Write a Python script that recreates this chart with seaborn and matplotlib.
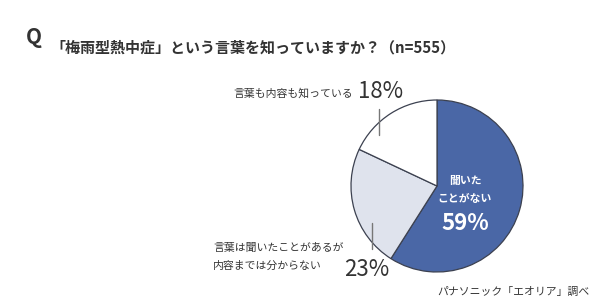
import matplotlib
matplotlib.use('Agg')
import matplotlib.pyplot as plt
import seaborn as sns

# データ
labels = ['聞いた\nことがない', '言葉は聞いたことがあるが\n内容までは分からない', '言葉も内容も知っている']
shares = [59, 23, 18]
colors = ['#4a67a6', '#dfe3ed', '#ffffff']
title = '「梅雨型熱中症」という言葉を知っていますか？（n=555）'
source = 'パナソニック「エオリア」調べ'

sns.set_theme(style='white')
plt.rcParams['font.family'] = ['Noto Sans CJK JP', 'DejaVu Sans']

H = 305
fig = plt.figure(figsize=(6, 3.05), dpi=100)
ax = fig.add_axes([0, 0, 1, 1])

ax.pie(shares, colors=colors, startangle=90, counterclock=False,
       center=(437, H - 186), radius=86,
       wedgeprops=dict(edgecolor='#3c4150', linewidth=0.9))
ax.set_xlim(0, 600)
ax.set_ylim(0, H)
ax.set_aspect('equal')
ax.axis('off')

txt = '#333333'
# タイトル
ax.text(26, H - 37, 'Q', fontsize=15, fontweight='bold', color=txt, va='center', ha='left')
ax.text(50, H - 47, title, fontsize=10.8, fontweight='bold', color=txt, va='center', ha='left')

# 18%
ax.text(353, H - 93, labels[2], fontsize=7.8, color=txt, va='center', ha='right')
ax.text(358, H - 92, f'{shares[2]}%', fontsize=16, color=txt, va='center', ha='left')
ax.plot([379, 379], [H - 109, H - 135], color='#777777', lw=1)

# 23%
ax.text(213, H - 257, labels[1], fontsize=7.8, color=txt, va='center', ha='left', linespacing=1.9)
ax.text(344, H - 270, f'{shares[1]}%', fontsize=16, color=txt, va='center', ha='left')
ax.plot([372, 372], [H - 223, H - 249], color='#777777', lw=1)

# 59%（扇形内）
ax.text(465, H - 190, labels[0], fontsize=7.8, fontweight='bold', color='white',
        va='center', ha='center', linespacing=1.9)
ax.text(465, H - 223, f'{shares[0]}%', fontsize=16, fontweight='bold', color='white',
        va='center', ha='center')

# 出典
ax.text(590, H - 292, source, fontsize=7.8, color=txt, va='center', ha='right')

fig.savefig('out.png', dpi=100)
